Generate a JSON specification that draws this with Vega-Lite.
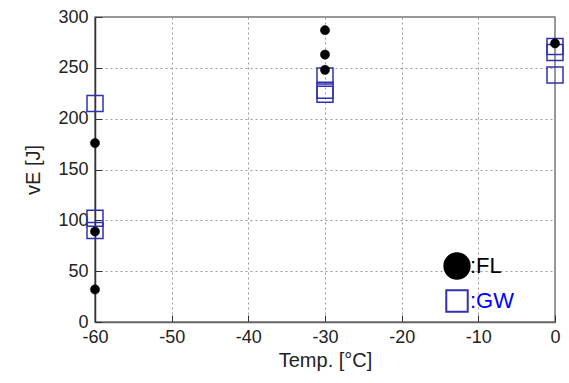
{
  "$schema": "https://vega.github.io/schema/vega-lite/v6.json",
  "width": 460,
  "height": 305,
  "autosize": {"type": "none"},
  "padding": {"left": 95, "top": 17, "right": 14, "bottom": 61},
  "background": "white",
  "config": {
    "font": "Liberation Sans",
    "view": {"stroke": "#777", "strokeWidth": 1.5},
    "axis": {
      "labelFont": "Liberation Sans",
      "titleFont": "Liberation Sans",
      "labelFontSize": 18,
      "titleFontSize": 20,
      "titleFontWeight": "normal",
      "labelColor": "#222",
      "titleColor": "#222",
      "labelFlush": false,
      "labelExpr": "replace(datum.label, '−', '-')",
      "grid": true,
      "gridColor": "#999",
      "gridDash": [2, 3],
      "gridWidth": 1,
      "tickSize": -7,
      "tickColor": "#333",
      "domainColor": "#333",
      "domainWidth": 1.5
    }
  },
  "data": {
    "values": [
      {"series": "GW", "temp": -60, "vE": 215},
      {"series": "GW", "temp": -60, "vE": 102},
      {"series": "GW", "temp": -60, "vE": 90},
      {"series": "GW", "temp": -30, "vE": 242},
      {"series": "GW", "temp": -30, "vE": 228},
      {"series": "GW", "temp": -30, "vE": 224},
      {"series": "GW", "temp": 0, "vE": 271},
      {"series": "GW", "temp": 0, "vE": 265},
      {"series": "GW", "temp": 0, "vE": 243},
      {"series": "FL", "temp": -60, "vE": 176},
      {"series": "FL", "temp": -60, "vE": 89},
      {"series": "FL", "temp": -60, "vE": 32},
      {"series": "FL", "temp": -30, "vE": 287},
      {"series": "FL", "temp": -30, "vE": 263},
      {"series": "FL", "temp": -30, "vE": 248},
      {"series": "FL", "temp": 0, "vE": 274}
    ]
  },
  "encoding": {
    "x": {
      "field": "temp", "type": "quantitative",
      "scale": {"domain": [-60, 0], "nice": false, "zero": false},
      "axis": {"values": [-60, -50, -40, -30, -20, -10, 0], "title": "Temp. [°C]", "labelPadding": 13, "titlePadding": 4, "domainColor": "#666"}
    },
    "y": {
      "field": "vE", "type": "quantitative",
      "scale": {"domain": [0, 300], "nice": false},
      "axis": {"values": [0, 50, 100, 150, 200, 250, 300], "title": "vE [J]", "labelPadding": 14, "titlePadding": 14}
    },
    "fill": {
      "field": "series", "type": "nominal",
      "scale": {"domain": ["FL", "GW"], "range": ["black", "transparent"]}
    },
    "stroke": {
      "field": "series", "type": "nominal",
      "scale": {"domain": ["FL", "GW"], "range": ["black", "#3030b0"]}
    },
    "shape": {
      "field": "series", "type": "nominal",
      "scale": {"domain": ["FL", "GW"], "range": ["circle", "square"]},
      "legend": {
        "title": null,
        "orient": "none",
        "legendX": 350,
        "legendY": 237,
        "labelExpr": "':' + datum.label",
        "labelFont": "Liberation Sans",
        "labelFontSize": 22,
        "labelColor": {"expr": "datum.value == 'GW' ? '#0000ff' : 'black'"},
        "rowPadding": 3,
        "labelOffset": 1,
        "symbolSize": {"expr": "datum.value == 'FL' ? 640 : 460"},
        "symbolStrokeColor": {"expr": "datum.value == 'FL' ? 'black' : '#0000ff'"},
        "symbolStrokeWidth": 2,
        "symbolOpacity": 1
      }
    }
  },
  "layer": [
    {
      "transform": [{"filter": "datum.series == 'GW'"}],
      "mark": {"type": "point", "filled": true, "strokeWidth": 1.5, "size": 256, "opacity": 1}
    },
    {
      "transform": [{"filter": "datum.series == 'FL'"}],
      "mark": {"type": "point", "filled": true, "strokeWidth": 0.5, "size": 85, "opacity": 1}
    }
  ]
}
